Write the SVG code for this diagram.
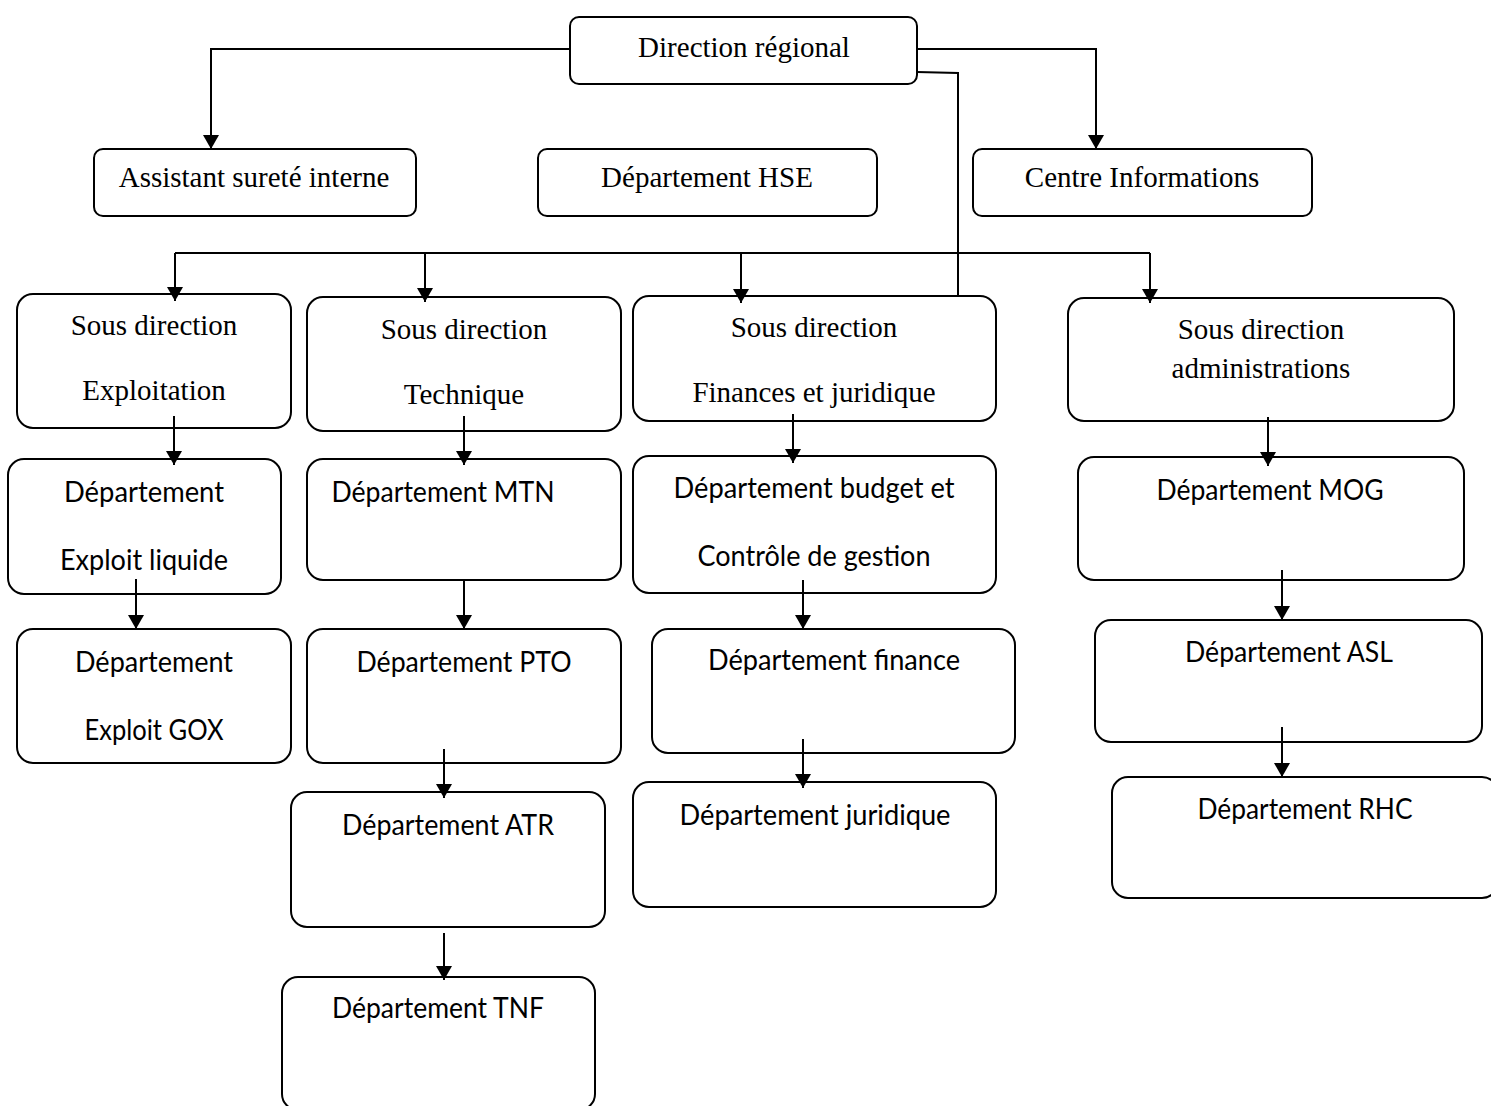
<svg xmlns="http://www.w3.org/2000/svg" width="1491" height="1106" viewBox="0 0 1491 1106">
<style>
.box{fill:#fff;stroke:#000;stroke-width:2}
.s{font-family:"Liberation Serif","Times New Roman",serif;font-size:29px;fill:#000;text-anchor:middle}
.c{font-family:Lato,"Open Sans",sans-serif;font-size:28px;fill:#000;text-anchor:middle}
.conn path{fill:none;stroke:#000;stroke-width:2}
.arr{marker-end:url(#ah)}
</style>
<defs>
<marker id="ah" markerUnits="userSpaceOnUse" markerWidth="15" markerHeight="16" refX="14" refY="8" orient="auto">
<path d="M0,0 L14,8 L0,16 z" fill="#000"/>
</marker>
</defs>
<rect width="1491" height="1106" fill="#fff"/>

<g id="n-direction"><rect class="box" x="570" y="17" width="347" height="67" rx="9"/><text class="s" x="744" y="57">Direction régional</text></g>
<g id="n-assistant"><rect class="box" x="94" y="149" width="322" height="67" rx="9"/><text class="s" x="254" y="187">Assistant sureté interne</text></g>
<g id="n-hse"><rect class="box" x="538" y="149" width="339" height="67" rx="9"/><text class="s" x="707" y="187">Département HSE</text></g>
<g id="n-centre"><rect class="box" x="973" y="149" width="339" height="67" rx="9"/><text class="s" x="1142" y="187">Centre Informations</text></g>

<g id="n-sd-exploitation"><rect class="box" x="17" y="294" width="274" height="134" rx="16"/><text class="s" x="154" y="335">Sous direction</text><text class="s" x="154" y="400">Exploitation</text></g>
<g id="n-sd-technique"><rect class="box" x="307" y="297" width="314" height="134" rx="16"/><text class="s" x="464" y="339">Sous direction</text><text class="s" x="464" y="404">Technique</text></g>
<g id="n-sd-finances"><rect class="box" x="633" y="296" width="363" height="125" rx="16"/><text class="s" x="814" y="337">Sous direction</text><text class="s" x="814" y="402">Finances et juridique</text></g>
<g id="n-sd-admin"><rect class="box" x="1068" y="298" width="386" height="123" rx="16"/><text class="s" x="1261" y="339">Sous direction</text><text class="s" x="1261" y="378">administrations</text></g>

<g id="n-liquide"><rect class="box" x="8" y="459" width="273" height="135" rx="16"/><text class="c" x="144" y="502" textLength="160" lengthAdjust="spacingAndGlyphs">Département</text><text class="c" x="144" y="570" textLength="168" lengthAdjust="spacingAndGlyphs">Exploit liquide</text></g>
<g id="n-gox"><rect class="box" x="17" y="629" width="274" height="134" rx="16"/><text class="c" x="154" y="672" textLength="158" lengthAdjust="spacingAndGlyphs">Département</text><text class="c" x="154" y="740" textLength="139" lengthAdjust="spacingAndGlyphs">Exploit GOX</text></g>

<g id="n-mtn"><rect class="box" x="307" y="459" width="314" height="121" rx="16"/><text class="c" x="443" y="502" textLength="223" lengthAdjust="spacingAndGlyphs">Département MTN</text></g>
<g id="n-pto"><rect class="box" x="307" y="629" width="314" height="134" rx="16"/><text class="c" x="464" y="672" textLength="215" lengthAdjust="spacingAndGlyphs">Département PTO</text></g>
<g id="n-atr"><rect class="box" x="291" y="792" width="314" height="135" rx="16"/><text class="c" x="448" y="835" textLength="212" lengthAdjust="spacingAndGlyphs">Département ATR</text></g>
<g id="n-tnf"><rect class="box" x="282" y="977" width="313" height="133" rx="16"/><text class="c" x="438" y="1018" textLength="212" lengthAdjust="spacingAndGlyphs">Département TNF</text></g>

<g id="n-budget"><rect class="box" x="633" y="456" width="363" height="137" rx="16"/><text class="c" x="814" y="498" textLength="281" lengthAdjust="spacingAndGlyphs">Département budget et</text><text class="c" x="814" y="566" textLength="233" lengthAdjust="spacingAndGlyphs">Contrôle de gestion</text></g>
<g id="n-finance"><rect class="box" x="652" y="629" width="363" height="124" rx="16"/><text class="c" x="834" y="670" textLength="252" lengthAdjust="spacingAndGlyphs">Département finance</text></g>
<g id="n-juridique"><rect class="box" x="633" y="782" width="363" height="125" rx="16"/><text class="c" x="815" y="825" textLength="271" lengthAdjust="spacingAndGlyphs">Département juridique</text></g>

<g id="n-mog"><rect class="box" x="1078" y="457" width="386" height="123" rx="16"/><text class="c" x="1270" y="500" textLength="227" lengthAdjust="spacingAndGlyphs">Département MOG</text></g>
<g id="n-asl"><rect class="box" x="1095" y="620" width="387" height="122" rx="16"/><text class="c" x="1289" y="662" textLength="208" lengthAdjust="spacingAndGlyphs">Département ASL</text></g>
<g id="n-rhc"><rect class="box" x="1112" y="777" width="386" height="121" rx="16"/><text class="c" x="1305" y="819" textLength="215" lengthAdjust="spacingAndGlyphs">Département RHC</text></g>

<g id="connectors" class="conn">
<path class="arr" d="M570,49 H211 V149"/>
<path class="arr" d="M917,49 H1096 V149"/>
<path d="M917,72 L958,73 V296"/>
<path d="M175,253 H1150"/>
<path class="arr" d="M175,253 V301"/>
<path class="arr" d="M425,253 V302"/>
<path class="arr" d="M741,253 V303"/>
<path class="arr" d="M1150,253 V303"/>
<path class="arr" d="M174,416 V465"/>
<path class="arr" d="M136,579 V629"/>
<path class="arr" d="M464,416 V465"/>
<path class="arr" d="M464,580 V629"/>
<path class="arr" d="M444,749 V798"/>
<path class="arr" d="M444,933 V980"/>
<path class="arr" d="M793,414 V463"/>
<path class="arr" d="M803,580 V629"/>
<path class="arr" d="M803,739 V788"/>
<path class="arr" d="M1268,417 V466"/>
<path class="arr" d="M1282,570 V620"/>
<path class="arr" d="M1282,727 V777"/>
</g>
</svg>
